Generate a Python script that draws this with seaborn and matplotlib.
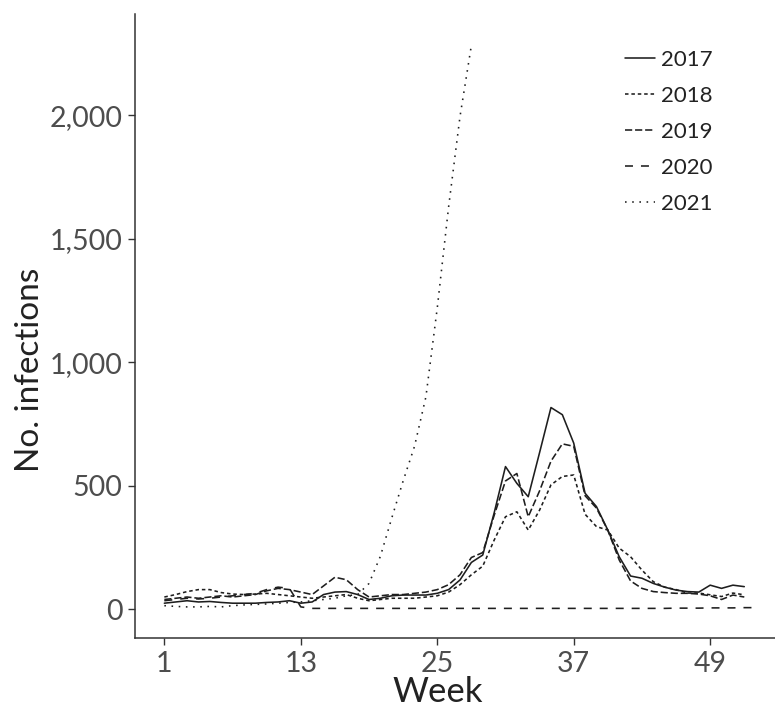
import pandas as pd
import matplotlib
matplotlib.use("Agg")
import matplotlib.pyplot as plt
import seaborn as sns
from matplotlib.ticker import FuncFormatter

# weekly counts
weeks_52 = list(range(1, 53))
weeks_53 = list(range(1, 54))
weeks_2021 = list(range(1, 29))

y2017 = [25, 30, 35, 30, 32, 28, 25, 25, 25, 28, 30, 35, 25, 30, 60, 70,
         72, 60, 40, 45, 55, 58, 58, 58, 65, 80, 119, 190, 220, 390, 578, 510,
         456, 635, 817, 788, 673, 470, 416, 321, 213, 135, 126, 105, 90, 78,
         72, 70, 98, 85, 98, 92]
y2018 = [50, 60, 72, 80, 80, 68, 62, 60, 62, 65, 60, 55, 50, 45, 50, 55,
         60, 45, 35, 40, 45, 45, 45, 50, 55, 70, 100, 140, 175, 280, 375, 395,
         321, 402, 504, 538, 544, 385, 335, 321, 248, 213, 159, 112, 90, 80,
         66, 66, 59, 52, 66, 59]
y2019 = [40, 45, 50, 45, 50, 55, 50, 55, 60, 75, 85, 80, 70, 60, 95, 130,
         120, 80, 50, 55, 60, 60, 65, 70, 80, 100, 140, 210, 230, 380, 520, 550,
         375, 480, 600, 670, 660, 460, 410, 320, 200, 115, 85, 72, 68, 65,
         65, 62, 55, 40, 58, 50]
y2020 = [35, 40, 45, 42, 45, 50, 55, 60, 65, 80, 90, 85, 10, 4, 4, 4,
         4, 4, 4, 4, 4, 4, 4, 4, 4, 4, 4, 4, 4, 4, 4, 4,
         4, 4, 4, 4, 4, 4, 4, 4, 4, 4, 4, 4, 4, 5, 5, 5,
         6, 6, 6, 7, 7]
y2021 = [15, 12, 10, 10, 12, 10, 15, 18, 20, 22, 25, 28, 30, 35, 40, 45,
         55, 60, 105, 215, 370, 520, 660, 860, 1220, 1630, 1995, 2283]

years = ["2017", "2018", "2019", "2020", "2021"]
frames = [
    pd.DataFrame({"week": weeks_52, "cases": y2017, "year": "2017"}),
    pd.DataFrame({"week": weeks_52, "cases": y2018, "year": "2018"}),
    pd.DataFrame({"week": weeks_52, "cases": y2019, "year": "2019"}),
    pd.DataFrame({"week": weeks_53, "cases": y2020, "year": "2020"}),
    pd.DataFrame({"week": weeks_2021, "cases": y2021, "year": "2021"}),
]
df = pd.concat(frames, ignore_index=True)

sns.set_theme(style="ticks")
plt.rcParams["font.family"] = ["Lato", "DejaVu Sans"]

dash_map = {"2017": "", "2018": (2.2, 1.8), "2019": (4.5, 1.8),
            "2020": (5, 5), "2021": (1, 3.5)}

fig = plt.figure(figsize=(7.75, 7.14), dpi=100)
ax = fig.add_axes([0.1742, 0.1064, 0.8258, 0.874])

sns.lineplot(data=df, x="week", y="cases", style="year", style_order=years,
             dashes=dash_map, color="#1e1e1e", linewidth=1.15, ax=ax)

ax.set_xlim(-1.58, 54.7)
ax.set_ylim(-116, 2410)
ax.set_xticks([1, 13, 25, 37, 49])
ax.set_yticks([0, 500, 1000, 1500, 2000])
ax.yaxis.set_major_formatter(FuncFormatter(lambda v, p: f"{int(v):,}"))

sns.despine(ax=ax)
for s in ["left", "bottom"]:
    ax.spines[s].set_color("#333333")
    ax.spines[s].set_linewidth(1.1)
ax.tick_params(axis="both", length=5, width=1.0, color="#333333",
               labelsize=20.5, labelcolor="#4d4d4d", pad=4)

ax.set_xlabel("Week", fontsize=25, color="#222222")
ax.set_ylabel("No. infections", fontsize=24, color="#222222")
ax.xaxis.set_label_coords(0.473, -0.061)
ax.yaxis.set_label_coords(-0.14, 0.43)

handles, labels = ax.get_legend_handles_labels()
ax.legend(handles, labels, frameon=False, fontsize=16, loc="upper left",
          bbox_to_anchor=(0.806, 0.93), bbox_transform=fig.transFigure,
          borderpad=0, borderaxespad=0, handlelength=1.35, handletextpad=0.3,
          labelspacing=0.72, labelcolor="#222222")

fig.savefig("out.png", dpi=100)
